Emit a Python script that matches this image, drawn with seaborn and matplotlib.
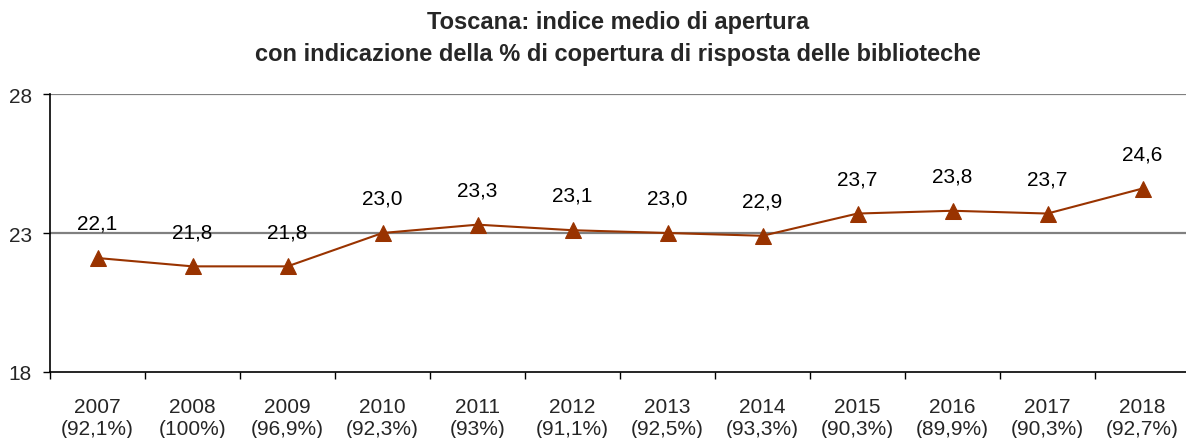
import matplotlib
matplotlib.use("Agg")
import matplotlib.pyplot as plt
import seaborn as sns
import pandas as pd
import numpy as np

years = ["2007", "2008", "2009", "2010", "2011", "2012", "2013", "2014", "2015", "2016", "2017", "2018"]
coverage = ["92,1%", "100%", "96,9%", "92,3%", "93%", "91,1%", "92,5%", "93,3%", "90,3%", "89,9%", "90,3%", "92,7%"]
index_values = [22.1, 21.8, 21.8, 23.0, 23.3, 23.1, 23.0, 22.9, 23.7, 23.8, 23.7, 24.6]

sns.set_theme(style="white")
plt.rcParams["font.family"] = ["Liberation Sans", "DejaVu Sans"]

df = pd.DataFrame({"pos": np.arange(len(years)), "value": index_values})

fig = plt.figure(figsize=(11.86, 4.39), dpi=100)
ax = fig.add_axes([50 / 1186, 1 - 373 / 439, 1140 / 1186, (373 - 95) / 439])

color = "#993300"
sns.lineplot(data=df, x="pos", y="value", ax=ax, color=color, linewidth=1.5,
             marker="^", markersize=12, markeredgecolor=color, markerfacecolor=color)

ax.set_xlim(-0.5, len(years) - 0.5)
ax.set_ylim(18, 28)
ax.set_yticks([18, 23, 28])
ax.set_yticklabels(["18", "23", "28"], fontsize=15)
for y in [23, 28]:
    ax.axhline(y, color="#808080", linewidth=1.6, zorder=0)

ax.set_xticks(np.arange(len(years)))
ax.set_xticklabels([f"{y}\n({c})" for y, c in zip(years, coverage)], fontsize=15, linespacing=1.2)
ax.set_xticks(np.arange(len(years) + 1) - 0.5, minor=True)
ax.tick_params(axis="x", which="major", length=0, pad=18)
ax.tick_params(axis="x", which="minor", length=5, width=1, color="black", direction="out", bottom=True)
ax.tick_params(axis="y", length=5, width=1, color="black", direction="out", left=True, pad=8)

ax.set_xlabel("")
ax.set_ylabel("")
for s in ["top", "right"]:
    ax.spines[s].set_visible(False)
for s in ["left", "bottom"]:
    ax.spines[s].set_color("black")
    ax.spines[s].set_linewidth(1.2)

for i, v in enumerate(index_values):
    ax.annotate(f"{v:.1f}".replace(".", ","), (i, v), xytext=(0, 25), textcoords="offset points",
                ha="center", va="center", fontsize=15, color="black")

title_x = 618 / 1186
fig.text(title_x, 1 - 22 / 439, "Toscana: indice medio di apertura", ha="center", va="center",
         fontsize=17, fontweight="bold")
fig.text(title_x, 1 - 55 / 439, "con indicazione della % di copertura di risposta delle biblioteche",
         ha="center", va="center", fontsize=17, fontweight="bold")

fig.savefig("out.png", dpi=100)
